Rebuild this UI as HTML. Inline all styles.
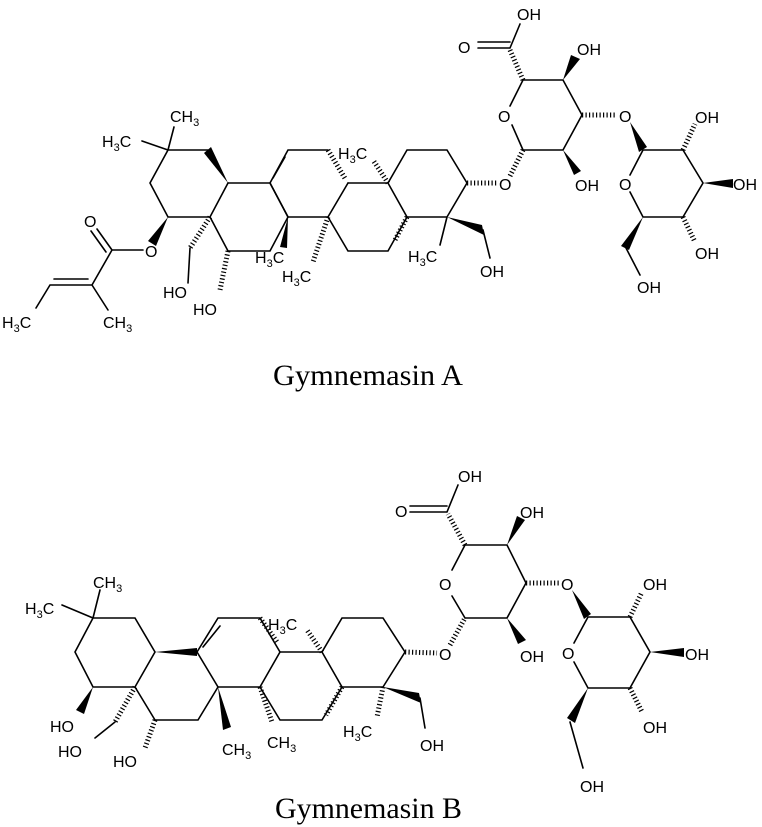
<!DOCTYPE html>
<html><head><meta charset="utf-8"><style>
html,body{margin:0;padding:0;background:#fff}
svg{display:block}
text{font-family:"Liberation Sans",sans-serif;font-size:16px;fill:#000}
.t{font-family:"Liberation Serif",serif;font-size:30px}
</style></head><body>
<svg width="762" height="827" viewBox="0 0 762 827" xmlns="http://www.w3.org/2000/svg">
<g stroke="#000" stroke-width="1.6" fill="none" stroke-linecap="round">
<!-- Molecule A -->
<path d="M168,150L208,150M228,183L210,217L168,217L150,183L168,150M168,150L174,127M168,150L142,141"/>
<path d="M143,250L112,250M112,250L97,229M106,252L91,231M112,250L92,285L50,285L36,308M88,279L54,279M92,285L108,310"/>
<path d="M228,183L270,183L288,217L270,251L228,251L210,217M190,248L188,283"/>
<path d="M270,183L288,150L328,150M273,178L285,157M348,183L328,217L288,217L270,183"/>
<path d="M348,183L388,183L407,217L388,251L348,251L328,217"/>
<path d="M388,183L407,150L447,150L467,183L447,217L407,217M483,230L490,258M447,217L440,245"/>
<path d="M523,150L512,125M510,106L523,80L563,80L582,115L563,150L523,150"/>
<path d="M510,48L478,48M510,42L478,42M510,48L520,24"/>
<path d="M643,150L683,150L703,183L683,217L643,217L630,192M630,175L643,150M626,248L640,275"/>
<!-- Molecule B -->
<path d="M93,618L135,618L155,652M155,652L135,687L93,687L75,652L93,618M93,618L100,590M93,618L62,605M115,722L95,738"/>
<path d="M197,652L218,687L198,720L155,720L135,687"/>
<path d="M197,652L218,618L260,618L280,652L260,687L218,687M203,647L220,626"/>
<path d="M280,652L322,652L342,687L322,720L280,720L260,687"/>
<path d="M322,652L342,618L383,618L405,652L383,687L342,687M420,698L425,728"/>
<path d="M465,618L507,618L526,583L507,545L465,545L452,570M452,596L465,618"/>
<path d="M447,512L410,512M447,506L410,506M447,512L458,485"/>
<path d="M588,617L630,617L650,652L630,688L588,688L574,662M574,643L588,617M570,722L583,768"/>
</g>
<!-- wedges -->
<g fill="#000">
<polygon points="228,183 204,153 211,147"/>
<polygon points="168,217 148,241 156,246"/>
<polygon points="288,217 280,247 287,248"/>
<polygon points="447,217 482,225 484,235"/>
<polygon points="563,80 571,55 580,59"/>
<polygon points="563,150 574,175 581,171"/>
<polygon points="630,122 639,152 647,147"/>
<polygon points="703,183 733,179 733,188"/>
<polygon points="643,217 621,246 629,250"/>
<polygon points="93,687 76,710 84,714"/>
<polygon points="155,652 197,648 197,656"/>
<polygon points="218,687 223,730 231,727"/>
<polygon points="383,687 419,693 421,703"/>
<polygon points="507,545 517,516 525,520"/>
<polygon points="507,618 518,644 526,640"/>
<polygon points="572,590 584,619 591,614"/>
<polygon points="650,652 684,648 684,657"/>
<polygon points="588,688 567,718 575,723"/>
</g>
<!-- hashes -->
<g stroke="#000" stroke-width="5" stroke-dasharray="1.2 2.3" fill="none">
<path d="M210,217L190,248M228,251L220,290M328,150L346,180M388,183L373,160M328,217L313,262M407,217L395,240"/>
<path d="M467,183L498,183M510,176L523,150M523,80L510,50M582,115L617,115M683,150L695,124M683,217L695,242"/>
<path d="M135,687L115,722M155,720L145,748M260,687L272,722M260,618L277,642M322,652L307,630M342,687L326,715M383,687L377,717"/>
<path d="M405,652L437,653M450,645L465,618M465,545L448,514M526,583L560,583M630,617L642,592M630,688L642,712"/>
</g>
<!-- labels A -->
<text x="170" y="122">CH<tspan font-size="11" dy="4">3</tspan></text>
<text x="102" y="147">H<tspan font-size="11" dy="4">3</tspan><tspan dy="-4">C</tspan></text>
<text x="145" y="257">O</text>
<text x="84" y="227">O</text>
<text x="2" y="328">H<tspan font-size="11" dy="4">3</tspan><tspan dy="-4">C</tspan></text>
<text x="103" y="328">CH<tspan font-size="11" dy="4">3</tspan></text>
<text x="163" y="298">HO</text>
<text x="193" y="315">HO</text>
<text x="255" y="263">H<tspan font-size="11" dy="4">3</tspan><tspan dy="-4">C</tspan></text>
<text x="282" y="282">H<tspan font-size="11" dy="4">3</tspan><tspan dy="-4">C</tspan></text>
<text x="338" y="159">H<tspan font-size="11" dy="4">3</tspan><tspan dy="-4">C</tspan></text>
<text x="408" y="262">H<tspan font-size="11" dy="4">3</tspan><tspan dy="-4">C</tspan></text>
<text x="480" y="277">OH</text>
<text x="499" y="190">O</text>
<text x="498" y="122">O</text>
<text x="458" y="53">O</text>
<text x="517" y="20">OH</text>
<text x="577" y="55">OH</text>
<text x="575" y="191">OH</text>
<text x="619" y="122">O</text>
<text x="619" y="190">O</text>
<text x="695" y="123">OH</text>
<text x="733" y="190">OH</text>
<text x="695" y="259">OH</text>
<text x="637" y="293">OH</text>
<text class="t" x="273" y="385" textLength="190" lengthAdjust="spacingAndGlyphs">Gymnemasin A</text>
<!-- labels B -->
<text x="93" y="588">CH<tspan font-size="11" dy="4">3</tspan></text>
<text x="25" y="614">H<tspan font-size="11" dy="4">3</tspan><tspan dy="-4">C</tspan></text>
<text x="50" y="732">HO</text>
<text x="58" y="757">HO</text>
<text x="113" y="767">HO</text>
<text x="222" y="755">CH<tspan font-size="11" dy="4">3</tspan></text>
<text x="267" y="748">CH<tspan font-size="11" dy="4">3</tspan></text>
<text x="268" y="630">H<tspan font-size="11" dy="4">3</tspan><tspan dy="-4">C</tspan></text>
<text x="343" y="737">H<tspan font-size="11" dy="4">3</tspan><tspan dy="-4">C</tspan></text>
<text x="420" y="751">OH</text>
<text x="439" y="660">O</text>
<text x="439" y="590">O</text>
<text x="395" y="517">O</text>
<text x="458" y="482">OH</text>
<text x="520" y="518">OH</text>
<text x="520" y="662">OH</text>
<text x="561" y="590">O</text>
<text x="562" y="659">O</text>
<text x="643" y="590">OH</text>
<text x="685" y="660">OH</text>
<text x="643" y="733">OH</text>
<text x="580" y="792">OH</text>
<text class="t" x="275" y="818" textLength="187" lengthAdjust="spacingAndGlyphs">Gymnemasin B</text>
</svg>
</body></html>
